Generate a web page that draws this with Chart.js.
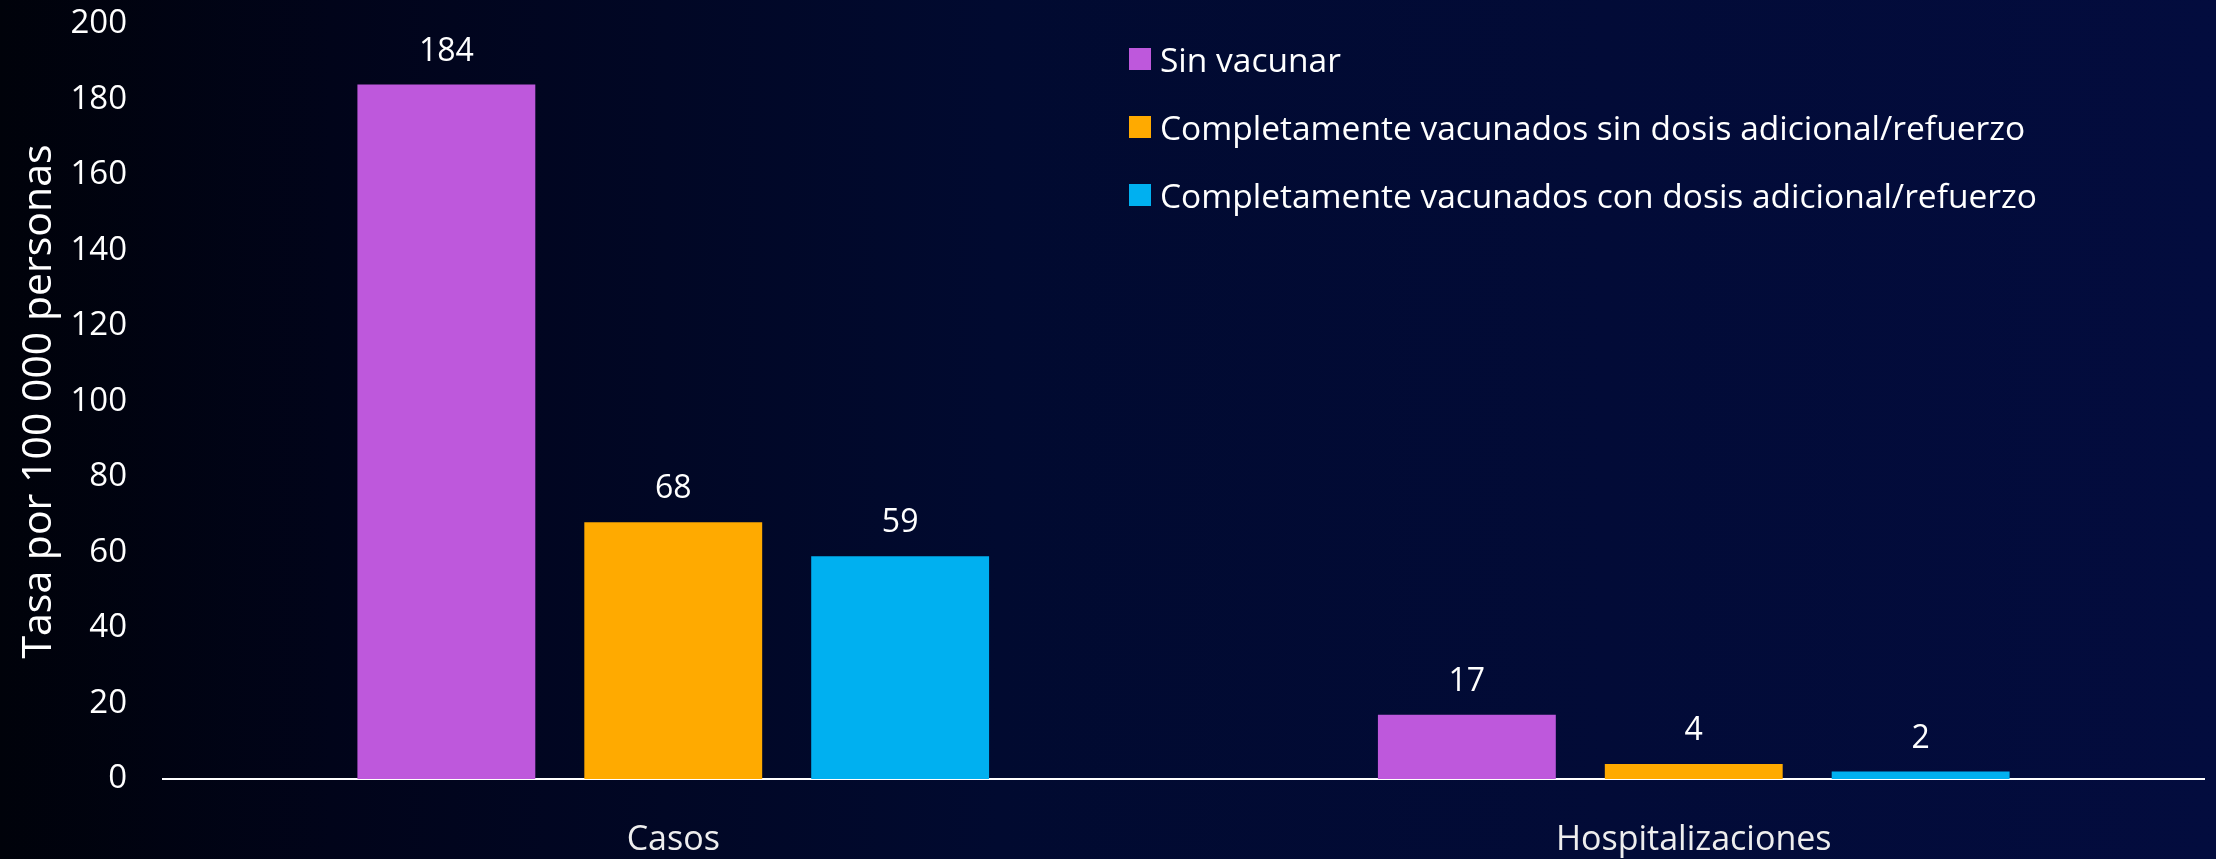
<!DOCTYPE html>
<html>
<head>
<meta charset="utf-8">
<script src="https://cdn.jsdelivr.net/npm/chart.js@4/dist/chart.umd.min.js"></script>
<style>
    html, body {
        margin: 0;
        padding: 0;
        width: 2216px;
        height: 859px;
        overflow: hidden;
        background: linear-gradient(90deg, #00020a 0%, #01041a 15%, #010a30 45%, #030c3e 100%);
        font-family: 'Open Sans', sans-serif;
    }
    #wrap {
        position: relative;
        width: 2216px;
        height: 859px;
    }
    #legend {
        position: absolute;
        left: 1129px;
        top: 40px;
        color: #fff;
        font-size: 33.5px;
    }
    .item {
        display: flex;
        align-items: center;
        height: 38px;
        margin-bottom: 30px;
        white-space: nowrap;
    }
    .box {
        width: 22px;
        height: 22px;
        margin-right: 9px;
    }
</style>
</head>
<body>
<div id="wrap">
    <canvas id="chart" width="2216" height="859"></canvas>
    <div id="legend"></div>
</div>
<script>
const categories = ['Casos', 'Hospitalizaciones'];
const seriesNames = [
    'Sin vacunar',
    'Completamente vacunados sin dosis adicional/refuerzo',
    'Completamente vacunados con dosis adicional/refuerzo'
];
const sinVacunar = [184, 17];
const sinRefuerzo = [68, 4];
const conRefuerzo = [59, 2];
const colors = ['#be58dc', '#ffaa00', '#00b0f0'];
const yTicks = [0, 20, 40, 60, 80, 100, 120, 140, 160, 180, 200];

const values = [sinVacunar, sinRefuerzo, conRefuerzo];

// labels above bars
const valueLabels = {
    id: 'valueLabels',
    afterDatasetsDraw(chart) {
        const ctx = chart.ctx;
        ctx.save();
        ctx.fillStyle = '#fff';
        ctx.font = '32px "Open Sans"';
        ctx.textAlign = 'center';
        ctx.textBaseline = 'middle';
        chart.data.datasets.forEach((ds, i) => {
            chart.getDatasetMeta(i).data.forEach((bar, j) => {
                ctx.fillText(ds.data[j], bar.x, bar.y - 33);
            });
        });
        ctx.restore();
    }
};

const chart = new Chart(document.getElementById('chart'), {
    type: 'bar',
    data: {
        labels: categories,
        datasets: seriesNames.map((name, i) => ({
            label: name,
            data: values[i],
            backgroundColor: colors[i],
            categoryPercentage: 0.667,
            barPercentage: 0.784
        }))
    },
    options: {
        responsive: false,
        animation: false,
        layout: {
            padding: { top: 0, right: 12, left: 0, bottom: 0 }
        },
        plugins: {
            legend: { display: false },
            tooltip: { enabled: false }
        },
        scales: {
            x: {
                grid: { display: false, drawTicks: false },
                border: { display: true, color: '#fff', width: 2 },
                ticks: {
                    color: '#eee',
                    font: { family: 'Open Sans', size: 34 },
                    padding: 41
                },
                afterFit(scale) { scale.height = 80; }
            },
            y: {
                min: 0,
                max: 200,
                afterBuildTicks(scale) {
                    scale.ticks = yTicks.map(v => ({ value: v }));
                },
                grid: { display: false, drawTicks: false },
                border: { display: false },
                ticks: {
                    color: '#fff',
                    font: { family: 'Open Sans', size: 33 },
                    padding: 36
                },
                title: {
                    display: true,
                    text: 'Tasa por 100 000 personas',
                    color: '#fff',
                    font: { family: 'Open Sans', size: 41 },
                    padding: { top: 15, bottom: 0 }
                },
                afterFit(scale) {
                    scale.width = 163;
                    scale.paddingTop = 24;
                    scale.paddingBottom = 0;
                }
            }
        }
    },
    plugins: [valueLabels]
});

const legend = document.getElementById('legend');
seriesNames.forEach((name, i) => {
    const item = document.createElement('div');
    item.className = 'item';
    const box = document.createElement('span');
    box.className = 'box';
    box.style.background = colors[i];
    const text = document.createElement('span');
    text.textContent = name;
    item.appendChild(box);
    item.appendChild(text);
    legend.appendChild(item);
});
</script>
</body>
</html>
